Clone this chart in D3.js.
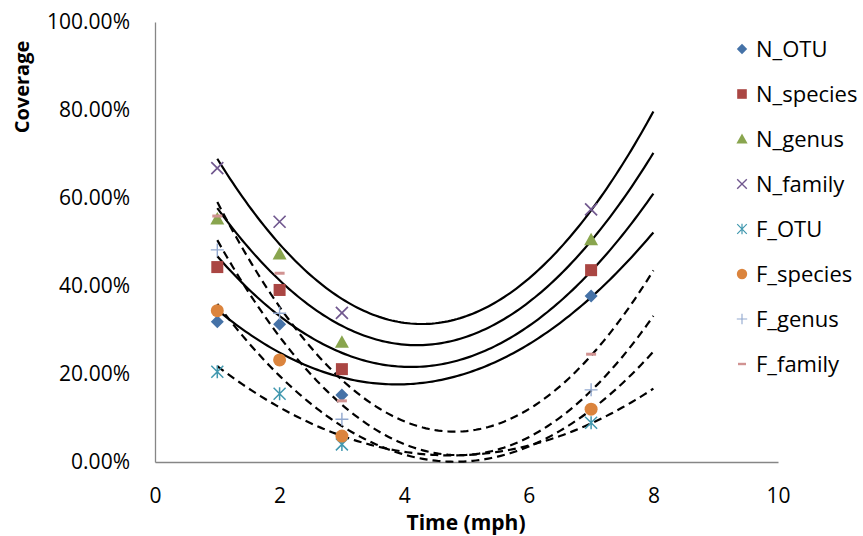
<meta charset="utf-8">
<script src="https://d3js.org/d3.v7.min.js"></script>
<style>
  body { margin: 0; background: #fff; }
  text { font-family: "Open Sans", sans-serif; }
</style>
<div id="chart"></div>
<script>

// data
var speeds = [1, 2, 3, 7];
var seriesNames = ["N_OTU", "N_species", "N_genus", "N_family", "F_OTU", "F_species", "F_genus", "F_family"];
var N_OTU     = [0.319, 0.313, 0.152, 0.377];
var N_species = [0.443, 0.391, 0.211, 0.436];
var N_genus   = [0.552, 0.473, 0.272, 0.505];
var N_family  = [0.668, 0.546, 0.339, 0.574];
var F_OTU     = [0.205, 0.155, 0.040, 0.089];
var F_species = [0.344, 0.232, 0.059, 0.120];
var F_genus   = [0.482, 0.338, 0.097, 0.164];
var F_family  = [0.559, 0.429, 0.139, 0.245];
var xTicks = [0, 2, 4, 6, 8, 10];
var yTicks = [0, 0.2, 0.4, 0.6, 0.8, 1];
var trendRange = [1, 8];

var values = {
  N_OTU: N_OTU, N_species: N_species, N_genus: N_genus, N_family: N_family,
  F_OTU: F_OTU, F_species: F_species, F_genus: F_genus, F_family: F_family
};

// marker style per series
var styles = {
  N_OTU:     {shape: "diamond",  color: "#4572A7"},
  N_species: {shape: "square",   color: "#AA4643"},
  N_genus:   {shape: "triangle", color: "#89A54E"},
  N_family:  {shape: "x",        color: "#71588F"},
  F_OTU:     {shape: "star",     color: "#4198AF"},
  F_species: {shape: "circle",   color: "#DB843D"},
  F_genus:   {shape: "plus",     color: "#93A9CF"},
  F_family:  {shape: "dash",     color: "#D19392"}
};

var width = 863, height = 536;

var svg = d3.select("#chart")
  .append("svg")
    .attr("width", width)
    .attr("height", height);

var x = d3.scaleLinear().domain([0, 10]).range([155, 778]);
var y = d3.scaleLinear().domain([0, 1]).range([462, 22]);

// X axis
var gx = svg.append("g")
    .attr("transform", "translate(0," + y(0) + ")")
    .call(d3.axisBottom(x).tickValues(xTicks).tickSize(0).tickPadding(26));
gx.select(".domain").attr("stroke", "#868686").attr("stroke-width", 1.3);
gx.selectAll("text").style("font-size", "21px").attr("fill", "#000");

// Y axis
var gy = svg.append("g")
    .attr("transform", "translate(" + x(0) + ",0)")
    .call(d3.axisLeft(y).tickValues(yTicks).tickFormat(d3.format(".2%")).tickSize(0).tickPadding(25));
gy.select(".domain").attr("stroke", "#868686").attr("stroke-width", 1.3);
gy.selectAll("text").style("font-size", "21px").attr("fill", "#000");

// axis titles
svg.append("text")
    .attr("x", 466)
    .attr("y", 530)
    .style("text-anchor", "middle")
    .style("font-size", "21px")
    .style("font-weight", "bold")
    .text("Time (mph)");

svg.append("text")
    .attr("transform", "translate(29,87) rotate(-90)")
    .style("text-anchor", "middle")
    .style("font-size", "20px")
    .style("font-weight", "bold")
    .text("Coverage");

// least squares quadratic, like the excel polynomial trendline
function quadFit(xs, ys) {
  var s = [0, 0, 0, 0, 0], t = [0, 0, 0];
  xs.forEach(function(xi, i) {
    for (var k = 0; k < 5; k++) s[k] += Math.pow(xi, k);
    for (var k = 0; k < 3; k++) t[k] += ys[i] * Math.pow(xi, k);
  });
  var m = [[s[0], s[1], s[2], t[0]], [s[1], s[2], s[3], t[1]], [s[2], s[3], s[4], t[2]]];
  for (var i = 0; i < 3; i++) {
    for (var j = i + 1; j < 3; j++) {
      var f = m[j][i] / m[i][i];
      for (var k = i; k < 4; k++) m[j][k] -= f * m[i][k];
    }
  }
  var c = [0, 0, 0];
  for (var i = 2; i >= 0; i--) {
    var sum = m[i][3];
    for (var k = i + 1; k < 3; k++) sum -= m[i][k] * c[k];
    c[i] = sum / m[i][i];
  }
  return function(v) { return c[0] + c[1] * v + c[2] * v * v; };
}

var line = d3.line()
    .x(function(d) { return x(d[0]); })
    .y(function(d) { return y(d[1]); });

var steps = d3.range(trendRange[0], trendRange[1] + 0.001, 0.05);

seriesNames.forEach(function(name) {
  var f = quadFit(speeds, values[name]);
  svg.append("path")
      .datum(steps.map(function(v) { return [v, f(v)]; }))
      .attr("d", line)
      .attr("fill", "none")
      .attr("stroke", "#000")
      .attr("stroke-width", 2.2)
      .attr("stroke-dasharray", name.charAt(0) == "F" ? "8,5" : null);
});

// markers
function drawMarker(g, shape, color) {
  switch (shape) {
    case "diamond":
      g.append("path").attr("d", "M0,-6.5L6.5,0L0,6.5L-6.5,0Z").attr("fill", color);
      break;
    case "square":
      g.append("rect").attr("x", -6).attr("y", -6).attr("width", 12).attr("height", 12).attr("fill", color);
      break;
    case "triangle":
      g.append("path").attr("d", "M0,-7L7,5.5L-7,5.5Z").attr("fill", color);
      break;
    case "circle":
      g.append("circle").attr("r", 6.5).attr("fill", color);
      break;
    case "x":
      g.append("path").attr("d", "M-6,-6L6,6M-6,6L6,-6").attr("stroke", color).attr("stroke-width", 1.7);
      break;
    case "star":
      g.append("path").attr("d", "M-6,-6L6,6M-6,6L6,-6M0,-6.5L0,6.5").attr("stroke", color).attr("stroke-width", 1.5);
      break;
    case "plus":
      g.append("path").attr("d", "M-6.5,0L6.5,0M0,-6.5L0,6.5").attr("stroke", color).attr("stroke-width", 1.4);
      break;
    case "dash":
      g.append("rect").attr("x", -5).attr("y", -1.5).attr("width", 10).attr("height", 3).attr("fill", color);
      break;
  }
}

seriesNames.forEach(function(name) {
  values[name].forEach(function(v, i) {
    var g = svg.append("g").attr("transform", "translate(" + x(speeds[i]) + "," + y(v) + ")");
    drawMarker(g, styles[name].shape, styles[name].color);
  });
});

// legend
var legend = svg.append("g").attr("transform", "translate(742,49)");
seriesNames.forEach(function(name, i) {
  var row = legend.append("g").attr("transform", "translate(0," + (i * 45) + ")");
  var m = row.append("g").attr("transform", "scale(0.8)");
  drawMarker(m, styles[name].shape, styles[name].color);
  row.append("text")
      .attr("x", 14)
      .attr("dy", "0.35em")
      .style("font-size", "22px")
      .text(name);
});

</script>
